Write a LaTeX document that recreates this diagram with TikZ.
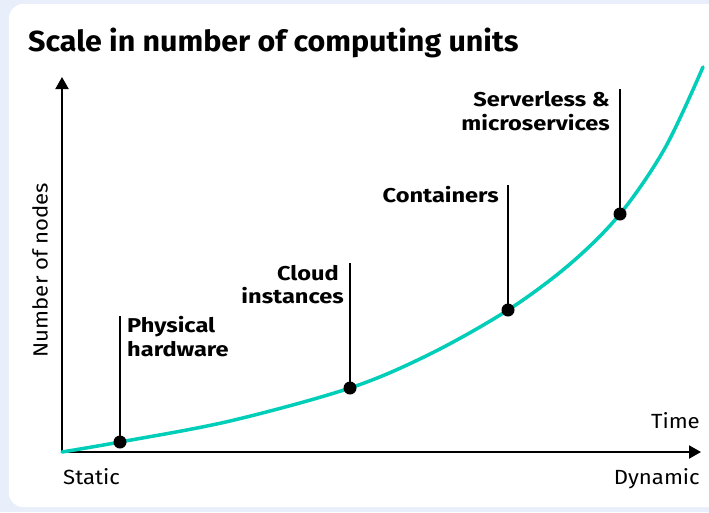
\documentclass[tikz,border=0pt]{standalone}
\usepackage{fontspec}
\setmainfont{Fira Sans}
\newfontfamily\titlefont[FakeStretch=1.05]{Fira Sans}
\newfontfamily\tagfont[FakeStretch=1.18]{Fira Sans}
\newfontfamily\plainfont[FakeStretch=1.08]{Fira Sans}
\usetikzlibrary{arrows.meta}
\definecolor{pagebg}{RGB}{233,239,250}
\definecolor{growth}{RGB}{0,206,184}
\tikzset{
  axis/.style={line width=2pt, -{Triangle[width=13pt,length=12pt]}},
  leader/.style={line width=2pt},
  dot/.style={circle, fill=black, inner sep=0pt, minimum size=13pt},
  tag/.style={inner sep=0pt, font=\tagfont\fontsize{20}{24}\selectfont\bfseries},
  plain/.style={inner sep=0pt, font=\plainfont\fontsize{20.5}{24}\selectfont},
  curve/.style={growth, line width=3.5pt, line cap=round}
}
\begin{document}
\begin{tikzpicture}[x=1pt,y=-1pt]
\useasboundingbox (0,0) rectangle (709,512);
% page background and white card
\fill[pagebg] (0,0) rectangle (709,512);
\fill[white, rounded corners=14pt] (9,4) rectangle (740,507);

% title
\node[anchor=base west, inner sep=0pt] (title) at (28,51)
  {\titlefont\bfseries\fontsize{29}{34}\selectfont Scale in number of computing units};

% axes
\coordinate (O) at (62,452);
\coordinate (ytip) at (62,77);
\coordinate (xtip) at (701,452);
\draw[axis] (O) -- (ytip);
\draw[axis] (O) -- (xtip);

\node[plain, anchor=base east] (time) at (700,428) {Time};
\node[plain, anchor=base west] (static) at (63,484) {Static};
\node[plain, anchor=base east] (dynamic) at (700,484) {Dynamic};
\node[plain, rotate=90] (nodes) at (40,270) {Number of nodes};

% growth curve
\draw[curve] plot[smooth, tension=0.55] coordinates {
  (62,452) (120,442) (230,421) (350,388) (430,354) (508,310)
  (570,264) (620,214) (665,148) (703,67)};

% milestones on the curve
\node[dot] (d1) at (120,442) {};
\node[dot] (d2) at (350,388) {};
\node[dot] (d3) at (508,310) {};
\node[dot] (d4) at (620,214) {};

\coordinate (t1) at (120,316);
\coordinate (t2) at (350,263);
\coordinate (t3) at (508,185);
\coordinate (t4) at (620,89);
\draw[leader] (t1) -- (d1.center);
\draw[leader] (t2) -- (d2.center);
\draw[leader] (t3) -- (d3.center);
\draw[leader] (t4) -- (d4.center);

% milestone labels
\node[tag, anchor=base west] (l1a) at (127,332) {Physical};
\node[tag, anchor=base west] (l1b) at (127,356) {hardware};
\node[tag, anchor=base east] (l2a) at (339,280) {Cloud};
\node[tag, anchor=base east] (l2b) at (344,303) {instances};
\node[tag, anchor=base east] (l3) at (499,202) {Containers};
\node[tag, anchor=base east] (l4a) at (610,106) {Serverless \&};
\node[tag, anchor=base east] (l4b) at (610,130) {microservices};
\end{tikzpicture}
\end{document}
